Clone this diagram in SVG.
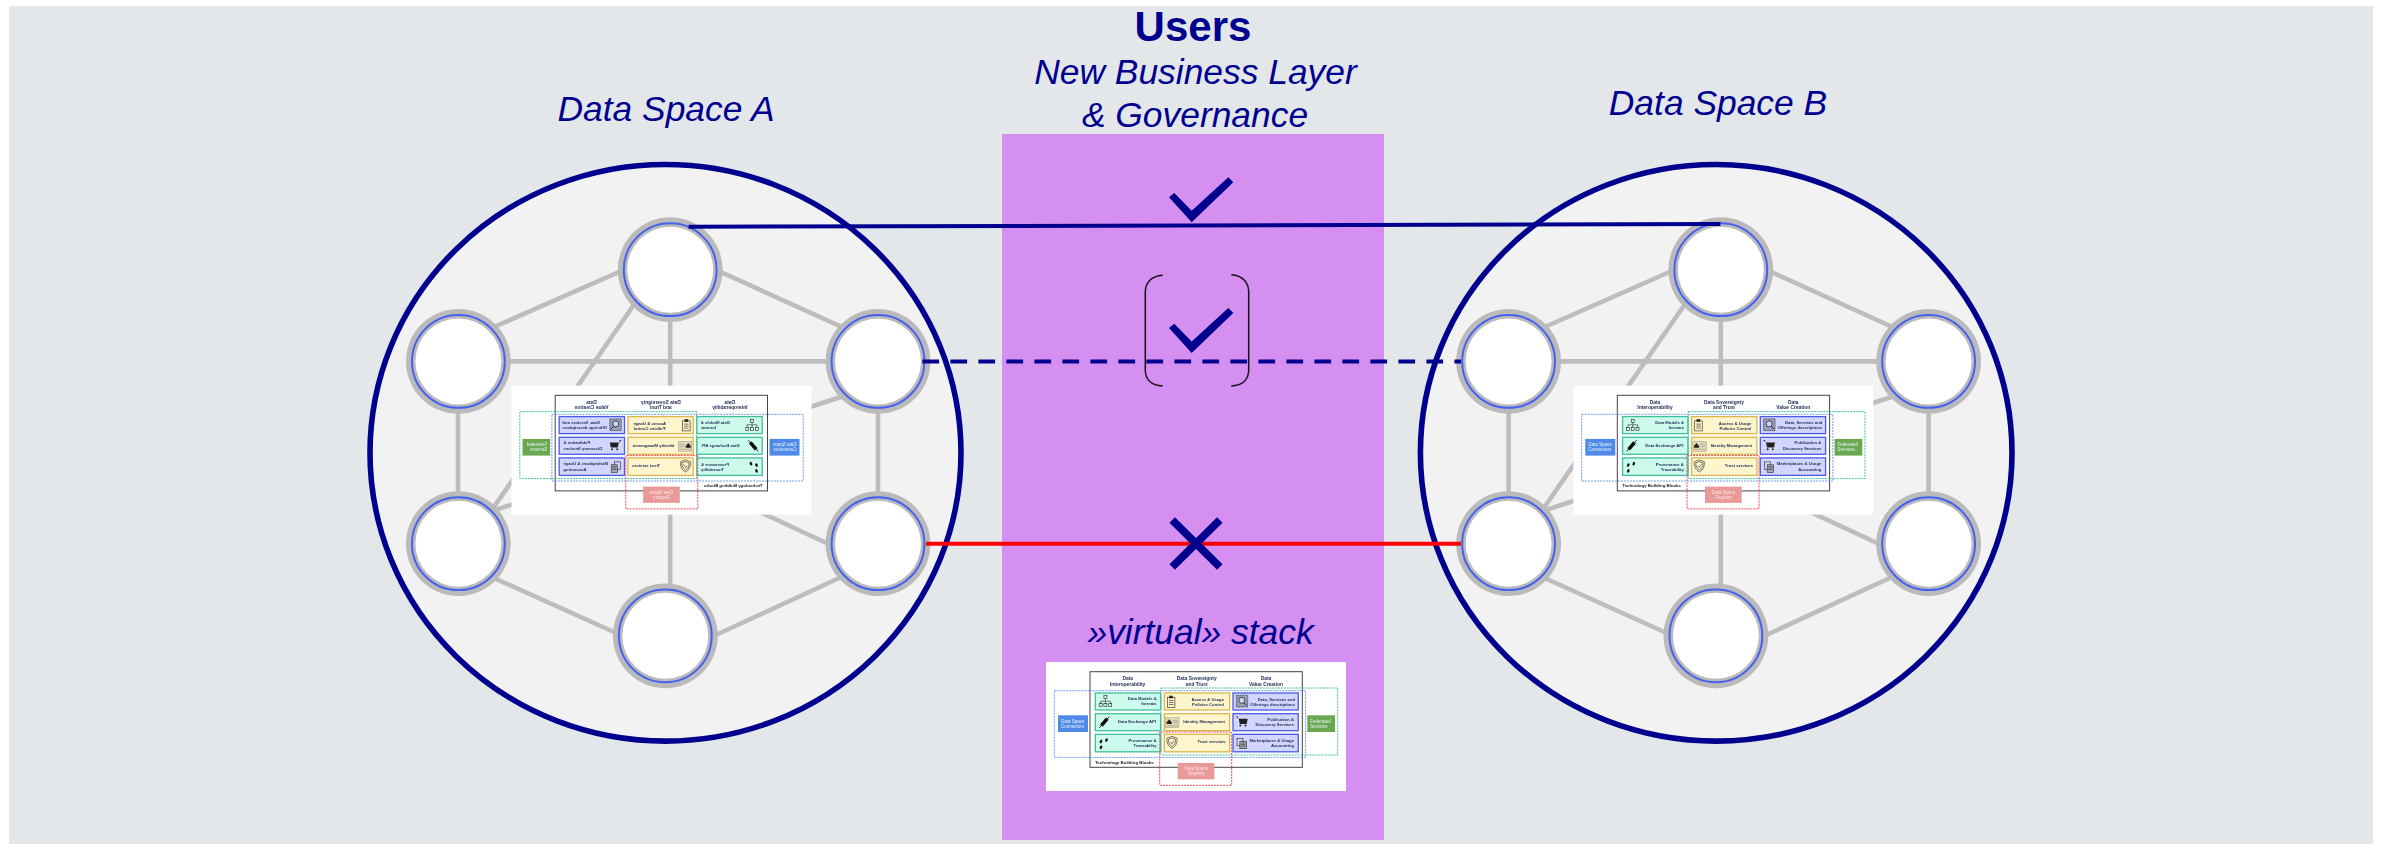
<svg xmlns="http://www.w3.org/2000/svg" xmlns:xlink="http://www.w3.org/1999/xlink" width="2381" height="844" viewBox="0 0 2381 844">
<style>
text{font-family:"Liberation Sans",Arial,sans-serif}
.title{fill:#00008f;font-size:35.4px;font-style:italic;text-anchor:middle}
.mesh{stroke:#bdbdbd;stroke-width:4.6;fill:none}
.space{fill:#f2f2f2;stroke:#00008f;stroke-width:5.6}
.stack{filter:url(#soft)}
.h{fill:#1f2a55;font-size:4.9px;font-weight:700;text-anchor:middle}
.t{fill:#1f2a55;font-size:4.2px;font-weight:700;text-anchor:end}
.bb{fill:#222;font-size:4.4px;font-weight:700}
.l{fill:#e8f0ff;font-size:4.5px}
.m{fill:#fbe6e6;font-size:4.5px;text-anchor:middle}
.ic{fill:none;stroke:#222;stroke-width:.6}
.g{fill:#ccfbee;stroke:#3fbf9b;stroke-width:1.3}
.y{fill:#fff5cc;stroke:#d9b84a;stroke-width:1.3}
.b{fill:#d2d6ff;stroke:#4a5be8;stroke-width:1.3}
.d{fill:none;stroke-width:1;stroke-dasharray:2 1}
</style>
<defs>
<filter id="soft" x="-2%" y="-2%" width="104%" height="104%"><feGaussianBlur stdDeviation="0.3"/></filter>
<g id="node"><circle r="52.4" fill="#bababa"/><circle r="43" fill="#fff"/><circle r="46.4" fill="none" stroke="#4660f0" stroke-width="2"/></g>
<g id="mesh">
<line class="mesh" x1="628" y1="268" x2="485" y2="331"/>
<line class="mesh" x1="712" y1="268" x2="855" y2="333"/>
<line class="mesh" x1="670.2" y1="300" x2="670.2" y2="610"/>
<line class="mesh" x1="470" y1="361.4" x2="870" y2="361.4"/>
<line class="mesh" x1="458" y1="361" x2="458" y2="544"/>
<line class="mesh" x1="878" y1="361" x2="878" y2="544"/>
<line class="mesh" x1="658" y1="270" x2="478" y2="530"/>
<line class="mesh" x1="850" y1="394" x2="480" y2="515"/>
<line class="mesh" x1="530" y1="405" x2="850" y2="554"/>
<line class="mesh" x1="485" y1="574" x2="625" y2="637"/>
<line class="mesh" x1="850" y1="573" x2="705" y2="640"/>
</g>
<g id="i-org" class="ic"><rect x="5.2" y="0" width="3" height="3"/><path d="M6.7 3V5M2 8V5.5H11.7V8M6.7 5.5V8"/><rect x=".5" y="8" width="3" height="3"/><rect x="5.2" y="8" width="3" height="3"/><rect x="10" y="8" width="3" height="3"/></g>
<g id="i-plug"><path d="M2 9L8 2" stroke="#111" stroke-width="3.6" fill="none"/><path d="M0 11L2 9M8 2L10 0" stroke="#111" stroke-width="1"/></g>
<g id="i-foot" fill="#111"><ellipse cx="2" cy="3.2" rx="1.2" ry="1.9" transform="rotate(25 2 3.2)"/><ellipse cx="7.5" cy="1.8" rx="1.2" ry="1.9" transform="rotate(25 7.5 1.8)"/><ellipse cx="2" cy="9" rx="1.2" ry="1.9" transform="rotate(25 2 9)"/></g>
<g id="i-clip" class="ic"><rect x=".4" y="1.3" width="7.5" height="10"/><rect x="2.6" y="0" width="3" height="2" fill="#222"/><path d="M2 4.5H6.5M2 6.5H6.5M2 8.5H6.5"/></g>
<g id="i-card"><rect x="0" y="0" width="13.3" height="10" fill="#e0d9b8" stroke="#8a8570" stroke-width=".4"/><path d="M1 6.4H6V4.6L3.5 1.6L1 4.6Z" fill="#222"/><path d="M7 3H12.4M7 5H12.4M1 8H12.4" stroke="#8a8570" stroke-width=".5"/></g>
<g id="i-shield" class="ic"><path d="M5.3 .3L10.4 2.2C10.6 7 9 10.5 5.3 12.4C1.6 10.5 0 7 .2 2.2Z"/><path d="M5.3 2L8.9 3.3C9 6.6 7.8 9 5.3 10.5C2.8 9 1.6 6.6 1.7 3.3Z"/><path d="M3.5 6.2L5 7.8L7.3 4.7"/></g>
<g id="i-mag"><rect x=".3" y=".3" width="11.4" height="11.7" fill="#9a9db8" stroke="#333" stroke-width=".7" stroke-dasharray="1.4 .5"/><circle cx="5.8" cy="5.3" r="3" fill="#d2d6ff" stroke="#222" stroke-width=".8"/><path d="M8 7.7L10.5 10.4" stroke="#222" stroke-width="1"/></g>
<g id="i-cart"><path d="M0 .4H1.8L3 2.8H12L11 8H4L3 2.8" fill="#222"/><circle cx="4.6" cy="9.6" r="1" fill="#222"/><circle cx="9.8" cy="9.6" r="1" fill="#222"/></g>
<g id="i-docs" class="ic"><rect x=".3" y=".3" width="6" height="7.5"/><rect x="3.2" y="3.2" width="6.4" height="7.5" fill="#aab0bb"/><path d="M4.2 5H8.6M4.2 6.6H8.6M4.2 8.2H8.6"/></g>
<g id="stack-art">
<rect width="300" height="129" fill="#fff"/>
<rect x="44" y="9.7" width="212.3" height="95.6" fill="#fff" stroke="#444" stroke-width="1"/>
<rect class="g" x="49.3" y="31" width="65.3" height="17"/><rect class="g" x="49.3" y="51.7" width="65.3" height="17"/><rect class="g" x="49.3" y="72.3" width="65.3" height="17.5"/>
<rect class="y" x="118.3" y="31" width="65.3" height="17"/><rect class="y" x="118.3" y="51.7" width="65.3" height="17"/><rect class="y" x="118.3" y="72.3" width="65.3" height="17.5"/>
<rect class="b" x="187" y="31" width="65.3" height="17"/><rect class="b" x="187" y="51.7" width="65.3" height="17"/><rect class="b" x="187" y="72.3" width="65.3" height="17.5"/>
<rect class="d" x="8.3" y="28.7" width="251.3" height="66.7" stroke="#6f9cf0"/>
<rect class="d" x="115" y="26" width="176.7" height="67" stroke="#45c29c"/>
<rect class="d" x="113.7" y="70" width="72" height="53.3" stroke="#f04a5c"/>
<rect x="12" y="53.3" width="30" height="16.7" fill="#4f8ae8"/>
<rect x="261.3" y="53.3" width="27.7" height="16.7" fill="#6aa84f"/>
<rect x="131.7" y="101" width="36.7" height="16.3" fill="#ea9999"/>
<use xlink:href="#i-org" href="#i-org" x="52.7" y="33.7"/>
<use xlink:href="#i-plug" href="#i-plug" x="53.3" y="54.7"/>
<use xlink:href="#i-foot" href="#i-foot" x="53" y="76.3"/>
<use xlink:href="#i-clip" href="#i-clip" x="121" y="34"/>
<use xlink:href="#i-card" href="#i-card" x="119.7" y="55.7"/>
<use xlink:href="#i-shield" href="#i-shield" x="120.7" y="74"/>
<use xlink:href="#i-mag" href="#i-mag" x="190" y="33"/>
<use xlink:href="#i-cart" href="#i-cart" x="189.7" y="54"/>
<use xlink:href="#i-docs" href="#i-docs" x="190.7" y="76"/>
</g>
</defs>
<rect id="background" x="9" y="6" width="2364" height="838" fill="#e4e7ea"/>
<rect id="business-layer" x="1002" y="134" width="382" height="706" fill="#d48ff0"/>
<g id="space-a">
<ellipse class="space" cx="665.5" cy="452.8" rx="295.5" ry="288.3"/>
<use xlink:href="#mesh" href="#mesh"/>
</g>
<g id="space-b">
<ellipse class="space" cx="1716.2" cy="452.8" rx="295.8" ry="288.3"/>
<use xlink:href="#mesh" href="#mesh" transform="translate(1050.6 0)"/>
</g>
<g id="a-top"><use xlink:href="#node" href="#node" x="670.2" y="269.7"/></g>
<g id="a-upper-left"><use xlink:href="#node" href="#node" x="458.4" y="361.4"/></g>
<g id="a-upper-right"><use xlink:href="#node" href="#node" x="878" y="361.4"/></g>
<g id="a-lower-left"><use xlink:href="#node" href="#node" x="458.4" y="543.7"/></g>
<g id="a-lower-right"><use xlink:href="#node" href="#node" x="878" y="543.7"/></g>
<g id="a-bottom"><use xlink:href="#node" href="#node" x="665.3" y="635.8"/></g>
<g id="b-top"><use xlink:href="#node" href="#node" x="1720.8" y="269.7"/></g>
<g id="b-upper-left"><use xlink:href="#node" href="#node" x="1508.6" y="361.4"/></g>
<g id="b-upper-right"><use xlink:href="#node" href="#node" x="1928.6" y="361.4"/></g>
<g id="b-lower-left"><use xlink:href="#node" href="#node" x="1508.6" y="543.7"/></g>
<g id="b-lower-right"><use xlink:href="#node" href="#node" x="1928.6" y="543.7"/></g>
<g id="b-bottom"><use xlink:href="#node" href="#node" x="1715.9" y="635.8"/></g>
<g id="stack-a" class="stack" transform="translate(811.5 385.6) scale(-1 1)">
<use xlink:href="#stack-art" href="#stack-art"/>
<text class="h" x="81.7" y="18">Data</text><text class="h" x="81.7" y="23.7">Interoperability</text>
<text class="h" x="150.7" y="18">Data Sovereignty</text><text class="h" x="150.7" y="23.7">and Trust</text>
<text class="h" x="220" y="18">Data</text><text class="h" x="220" y="23.7">Value Creation</text>
<text class="t" x="110.7" y="38">Data Models &amp;</text><text class="t" x="110.7" y="43.3">formats</text>
<text class="t" x="110" y="61.3">Data Exchange API</text>
<text class="t" x="110.5" y="80">Provenance &amp;</text><text class="t" x="110.5" y="85">Traceability</text>
<text class="t" x="178" y="39">Access &amp; Usage</text><text class="t" x="178" y="44">Policies Control</text>
<text class="t" x="179" y="61.3">Identity Management</text>
<text class="t" x="179.7" y="81">Trust services</text>
<text class="t" x="249" y="38.5">Data, Services and</text><text class="t" x="249" y="43.5">Offerings descriptions</text>
<text class="t" x="248" y="58.7">Publication &amp;</text><text class="t" x="248" y="64">Discovery Services</text>
<text class="t" x="248" y="79.7">Marketplaces &amp; Usage</text><text class="t" x="248" y="85">Accounting</text>
<text class="bb" x="49" y="101.5">Technology Building Blocks</text>
<text class="l" x="15" y="60.7">Data Space</text><text class="l" x="15" y="65.7">Connectors</text>
<text class="l" x="264.3" y="60.7">Federated</text><text class="l" x="264.3" y="65.7">Services</text>
<text class="m" x="150.3" y="108">Data Space</text><text class="m" x="150.3" y="113">Registry</text>
</g>
<g id="stack-b" class="stack" transform="translate(1573.3 385.6)">
<use xlink:href="#stack-art" href="#stack-art"/>
<text class="h" x="81.7" y="18">Data</text><text class="h" x="81.7" y="23.7">Interoperability</text>
<text class="h" x="150.7" y="18">Data Sovereignty</text><text class="h" x="150.7" y="23.7">and Trust</text>
<text class="h" x="220" y="18">Data</text><text class="h" x="220" y="23.7">Value Creation</text>
<text class="t" x="110.7" y="38">Data Models &amp;</text><text class="t" x="110.7" y="43.3">formats</text>
<text class="t" x="110" y="61.3">Data Exchange API</text>
<text class="t" x="110.5" y="80">Provenance &amp;</text><text class="t" x="110.5" y="85">Traceability</text>
<text class="t" x="178" y="39">Access &amp; Usage</text><text class="t" x="178" y="44">Policies Control</text>
<text class="t" x="179" y="61.3">Identity Management</text>
<text class="t" x="179.7" y="81">Trust services</text>
<text class="t" x="249" y="38.5">Data, Services and</text><text class="t" x="249" y="43.5">Offerings descriptions</text>
<text class="t" x="248" y="58.7">Publication &amp;</text><text class="t" x="248" y="64">Discovery Services</text>
<text class="t" x="248" y="79.7">Marketplaces &amp; Usage</text><text class="t" x="248" y="85">Accounting</text>
<text class="bb" x="49" y="101.5">Technology Building Blocks</text>
<text class="l" x="15" y="60.7">Data Space</text><text class="l" x="15" y="65.7">Connectors</text>
<text class="l" x="264.3" y="60.7">Federated</text><text class="l" x="264.3" y="65.7">Services</text>
<text class="m" x="150.3" y="108">Data Space</text><text class="m" x="150.3" y="113">Registry</text>
</g>
<g id="stack-virtual" class="stack" transform="translate(1046 662)">
<use xlink:href="#stack-art" href="#stack-art"/>
<text class="h" x="81.7" y="18">Data</text><text class="h" x="81.7" y="23.7">Interoperability</text>
<text class="h" x="150.7" y="18">Data Sovereignty</text><text class="h" x="150.7" y="23.7">and Trust</text>
<text class="h" x="220" y="18">Data</text><text class="h" x="220" y="23.7">Value Creation</text>
<text class="t" x="110.7" y="38">Data Models &amp;</text><text class="t" x="110.7" y="43.3">formats</text>
<text class="t" x="110" y="61.3">Data Exchange API</text>
<text class="t" x="110.5" y="80">Provenance &amp;</text><text class="t" x="110.5" y="85">Traceability</text>
<text class="t" x="178" y="39">Access &amp; Usage</text><text class="t" x="178" y="44">Policies Control</text>
<text class="t" x="179" y="61.3">Identity Management</text>
<text class="t" x="179.7" y="81">Trust services</text>
<text class="t" x="249" y="38.5">Data, Services and</text><text class="t" x="249" y="43.5">Offerings descriptions</text>
<text class="t" x="248" y="58.7">Publication &amp;</text><text class="t" x="248" y="64">Discovery Services</text>
<text class="t" x="248" y="79.7">Marketplaces &amp; Usage</text><text class="t" x="248" y="85">Accounting</text>
<text class="bb" x="49" y="101.5">Technology Building Blocks</text>
<text class="l" x="15" y="60.7">Data Space</text><text class="l" x="15" y="65.7">Connectors</text>
<text class="l" x="264.3" y="60.7">Federated</text><text class="l" x="264.3" y="65.7">Services</text>
<text class="m" x="150.3" y="108">Data Space</text><text class="m" x="150.3" y="113">Registry</text>
</g>
<g id="connectors">
<line x1="688.6" y1="226.8" x2="1720.4" y2="224" stroke="#00008f" stroke-width="4"/>
<line x1="922.4" y1="361.6" x2="1461" y2="361.6" stroke="#00008f" stroke-width="4" stroke-dasharray="16.7 11.3"/>
<line x1="926" y1="543.7" x2="1461" y2="543.7" stroke="#ff0000" stroke-width="4"/>
</g>
<g id="marks" fill="#00008f">
<polygon id="check-1" points="1169,197.3 1174.3,193 1191.7,210.7 1228.3,177.3 1233.3,182.3 1191.7,222.3"/>
<polygon id="check-2" points="1169,328 1174.3,323.7 1191.7,341.4 1228.3,308 1233.3,313 1191.7,353"/>
<path id="brackets" d="M1162.7 275.3C1151 276 1145.3 283 1145.3 292V370C1145.3 379 1151 385.3 1162.7 386M1231.3 274.7C1243 275.5 1248.7 283 1248.7 292V370C1248.7 379 1243 385.3 1231.3 386" fill="none" stroke="#111" stroke-width="1.5"/>
<path id="cross" d="M1172.2 520L1219.8 567M1219.8 520L1172.2 567" fill="none" stroke="#00008f" stroke-width="7.8"/>
</g>
<g id="labels">
<text x="1193" y="40.7" style="fill:#00008f;font-size:42px;font-weight:700;text-anchor:middle">Users</text>
<text class="title" x="1195.5" y="84">New Business Layer</text>
<text class="title" x="1195" y="127.3">&amp; Governance</text>
<text class="title" x="666" y="120.7">Data Space A</text>
<text class="title" x="1718" y="115.3">Data Space B</text>
<text class="title" x="1200.6" y="644.3">»virtual» stack</text>
</g>
</svg>
